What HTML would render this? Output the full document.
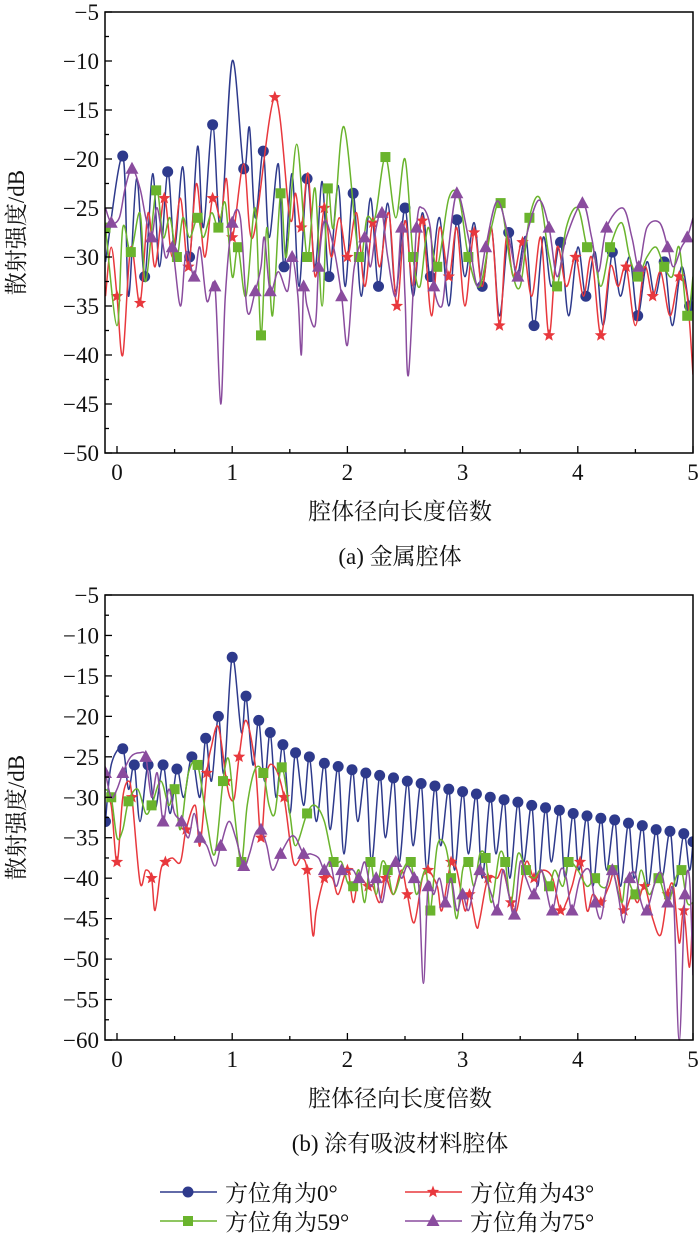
<!DOCTYPE html>
<html><head><meta charset="utf-8">
<style>
html,body{margin:0;padding:0;background:#fff;}
svg{display:block;font-family:"Liberation Serif","Noto Serif CJK SC","Noto Sans CJK SC",serif;}
</style></head>
<body>
<svg id="chart" width="700" height="1237" viewBox="0 0 700 1237" xmlns="http://www.w3.org/2000/svg"></svg>
<script>
// ---- Data (top panel: metal cavity) ----
const t0x=[-0.1,0.05,0.1,0.17,0.24,0.31,0.37,0.44,0.5,0.57,0.63,0.70,0.75,0.83,0.9,1.0,1.1,1.15,1.2,1.27,1.32,1.4,1.45,1.52,1.58,1.65,1.72,1.78,1.84,1.92,1.98,2.05,2.12,2.2,2.27,2.35,2.42,2.5,2.57,2.65,2.72,2.8,2.88,2.95,3.02,3.1,3.17,3.25,3.32,3.4,3.47,3.55,3.62,3.7,3.77,3.85,3.92,4.0,4.07,4.15,4.22,4.3,4.37,4.45,4.52,4.6,4.67,4.75,4.82,4.9,4.97,5.0];
const t0y=[-30.5,-19.7,-34,-22,-32,-21.5,-31,-21.3,-29,-20.8,-30,-18.7,-27,-16.5,-27,-10,-21,-16.8,-26,-19.2,-28,-20.5,-31,-21.5,-33,-22,-31,-22.3,-32,-22.7,-33,-23.5,-34,-24,-33,-24.5,-33.5,-25,-34,-25.5,-32,-26,-35,-26.2,-32,-26.5,-33,-27,-36,-27.5,-32,-28,-37,-28,-33,-28.5,-36,-29,-34,-29.5,-37,-29.5,-34,-30,-36,-30.5,-34,-30.5,-37,-31,-35,-33];
const t43x=[-0.1,-0.05,0.0,0.05,0.12,0.2,0.27,0.33,0.41,0.48,0.55,0.62,0.69,0.76,0.83,0.9,0.95,1.0,1.1,1.18,1.37,1.5,1.55,1.6,1.66,1.72,1.8,1.86,1.93,2.0,2.08,2.15,2.22,2.28,2.36,2.43,2.5,2.57,2.65,2.73,2.8,2.88,2.95,3.02,3.1,3.17,3.25,3.32,3.38,3.44,3.52,3.6,3.68,3.75,3.82,3.9,3.98,4.05,4.12,4.2,4.28,4.35,4.42,4.5,4.58,4.65,4.72,4.8,4.88,4.95,5.0];
const t43y=[-34,-29,-34,-40,-29,-34.7,-25.5,-31,-24,-30,-24,-31,-22.5,-30,-24,-26,-22,-28,-20.5,-28,-13.7,-26,-23.5,-27,-21.5,-32,-25,-30,-26,-30,-25.5,-33,-26.5,-31,-25.5,-35,-26.3,-33,-26.3,-36,-27,-32,-27,-35,-27.5,-33,-27,-37,-28,-32,-28.5,-34,-28,-38,-29,-33,-30,-34,-30,-38,-31,-33,-31,-37,-31,-34,-31.5,-36,-32,-34,-42];
const t59x=[-0.1,0.0,0.05,0.12,0.2,0.25,0.34,0.4,0.46,0.52,0.57,0.63,0.7,0.75,0.82,0.88,0.94,1.0,1.05,1.12,1.2,1.25,1.3,1.35,1.42,1.47,1.56,1.65,1.72,1.78,1.83,1.88,1.97,2.1,2.17,2.24,2.33,2.42,2.5,2.57,2.63,2.7,2.78,2.88,2.97,3.05,3.15,3.25,3.33,3.42,3.5,3.58,3.67,3.75,3.82,3.9,4.0,4.08,4.13,4.2,4.28,4.38,4.45,4.52,4.6,4.68,4.75,4.82,4.88,4.95,5.0];
const t59y=[-27,-37,-27,-29.5,-25.5,-32.5,-23.2,-28,-26,-30,-26,-28,-26,-28,-25.5,-27,-24.5,-32,-29,-34,-25,-38,-27,-36,-23.5,-30,-18.5,-30,-23,-35,-23,-27,-16.7,-30,-26,-26,-19.8,-26,-20,-30,-33,-27,-31,-24,-24,-30,-33,-27,-24.5,-31,-33,-26,-24,-30,-33,-27,-25,-29,-29,-33,-29,-26.5,-30,-32,-30,-29,-31,-32,-29,-36,-32];
const t75x=[-0.1,-0.05,0.02,0.07,0.13,0.2,0.25,0.3,0.35,0.42,0.48,0.55,0.6,0.67,0.72,0.78,0.85,0.9,0.94,1.0,1.07,1.13,1.2,1.25,1.28,1.33,1.4,1.48,1.52,1.57,1.6,1.62,1.65,1.72,1.75,1.8,1.88,1.95,2.0,2.06,2.15,2.2,2.25,2.3,2.35,2.42,2.47,2.5,2.53,2.6,2.65,2.72,2.75,2.82,2.87,2.95,3.05,3.13,3.2,3.3,3.4,3.48,3.55,3.66,3.75,3.82,3.9,4.04,4.12,4.18,4.25,4.39,4.47,4.53,4.6,4.71,4.78,4.83,4.9,4.95,5.0];
const t75y=[-25,-26.5,-26,-23,-21,-23,-26,-28,-25,-30,-29,-35,-29.5,-32,-29,-34.5,-33,-45,-34,-26.5,-26,-35.5,-33.5,-31,-28,-33.5,-31.5,-33.5,-30,-34,-40,-33,-35,-37,-31,-26.3,-29,-34,-39,-31,-28,-31,-27,-25.5,-30,-34,-27,-34,-42,-27,-25,-27,-33,-35,-30,-23.5,-28,-33,-29,-24.3,-28,-32,-28,-24.2,-27,-32,-28,-24.5,-28,-31.5,-27,-25,-28,-31,-27,-26.5,-29,-31,-29,-28,-26];
// ---- Data (bottom panel: absorber-coated cavity) ----
const b0x=[-0.1,-0.05,0.05,0.1,0.15,0.2,0.27,0.33,0.4,0.46,0.52,0.58,0.65,0.72,0.77,0.82,0.88,0.93,1.0,1.08,1.12,1.18,1.23,1.28,1.33,1.38,1.44,1.5,1.55,1.62,1.67,1.73,1.8,1.85,1.92,1.97,2.04,2.09,2.16,2.21,2.28,2.33,2.4,2.45,2.52,2.57,2.64,2.69,2.76,2.81,2.88,2.93,3.0,3.05,3.12,3.17,3.24,3.29,3.36,3.41,3.48,3.53,3.6,3.65,3.72,3.77,3.84,3.89,3.96,4.01,4.08,4.13,4.2,4.25,4.32,4.37,4.44,4.49,4.56,4.61,4.68,4.73,4.8,4.85,4.92,4.97,5.0];
const b0y=[-33,-26,-24,-29,-26,-33,-26,-31.5,-26,-32,-26.5,-30,-25,-30,-22.7,-28,-20,-27,-12.7,-22,-17.5,-26,-20.5,-28,-22,-30,-23.5,-32,-24.5,-31,-25,-33,-25.8,-34,-26.2,-37,-26.6,-33,-27,-38,-27.3,-35,-27.6,-38,-28,-36,-28.3,-39,-28.6,-36,-29,-39,-29.3,-37,-29.6,-40,-30,-37,-30.3,-40,-30.6,-38,-31,-41,-31.3,-38,-31.6,-40,-32,-39,-32.3,-41,-32.6,-39,-32.8,-41,-33.2,-40,-33.5,-41,-34,-40,-34.2,-41,-34.5,-39,-35.5];
const b43x=[-0.1,-0.05,0.0,0.05,0.1,0.13,0.2,0.25,0.3,0.33,0.38,0.42,0.48,0.55,0.6,0.68,0.72,0.78,0.82,0.88,0.95,0.98,1.02,1.06,1.12,1.2,1.25,1.3,1.37,1.45,1.53,1.6,1.65,1.7,1.73,1.8,1.87,1.92,2.0,2.05,2.1,2.18,2.22,2.28,2.33,2.4,2.47,2.52,2.58,2.65,2.7,2.78,2.82,2.9,2.95,3.02,3.06,3.12,3.15,3.22,3.3,3.35,3.42,3.47,3.55,3.62,3.7,3.78,3.85,3.9,3.95,4.02,4.08,4.13,4.2,4.27,4.33,4.4,4.47,4.52,4.58,4.65,4.72,4.78,4.83,4.88,4.92,4.97,5.0];
const b43y=[-30,-31,-38,-30,-28,-30,-40.5,-39,-40,-44,-39,-38,-37.5,-38,-34,-31,-36,-27,-23.7,-21.3,-28,-30,-30,-25,-20.5,-26,-35,-27,-26.3,-30,-38,-37.5,-39,-47,-44,-40,-40,-42,-39,-43,-40,-41,-41,-43,-40,-42,-39,-42,-45.5,-40,-39,-41,-44,-38,-39,-44,-42,-46,-45,-40,-40,-39,-43,-44,-38,-40,-39,-40,-44,-43,-41,-38,-44,-42,-43,-41,-39,-44,-42,-43,-41,-45,-47,-42,-41,-48,-44,-51,-43];
const b59x=[-0.1,-0.05,0.0,0.05,0.1,0.18,0.25,0.3,0.38,0.45,0.5,0.55,0.62,0.7,0.78,0.85,0.92,0.97,1.02,1.08,1.13,1.2,1.27,1.32,1.37,1.43,1.5,1.55,1.65,1.72,1.8,1.88,1.95,2.0,2.05,2.1,2.15,2.2,2.25,2.3,2.35,2.4,2.48,2.55,2.6,2.68,2.72,2.78,2.85,2.9,2.95,3.0,3.05,3.1,3.15,3.2,3.25,3.32,3.37,3.42,3.48,3.55,3.62,3.68,3.75,3.8,3.87,3.92,4.0,4.08,4.15,4.2,4.25,4.3,4.38,4.42,4.5,4.55,4.62,4.7,4.78,4.85,4.9,4.95,5.0];
const b59y=[-29,-30,-35,-34,-30.5,-29,-32,-31,-28,-31,-29,-34,-27,-26,-33,-37,-28,-25.3,-32,-38,-31,-26.5,-27,-31,-32,-26.3,-32,-36,-32,-31,-33,-38,-38,-40.5,-41,-39,-43,-38,-42,-38,-39,-42,-39,-38,-42,-39,-44,-36,-36,-40,-45,-39,-38,-41,-37,-37.5,-43,-37,-38,-43,-37,-39,-40,-39,-41,-39,-41,-38,-39,-41,-40,-41,-41,-39,-43,-40,-42,-39,-42,-40,-43,-40,-39,-43,-43];
const b75x=[-0.1,-0.05,0.0,0.05,0.12,0.2,0.25,0.3,0.35,0.4,0.45,0.5,0.56,0.62,0.67,0.72,0.78,0.85,0.9,0.97,1.03,1.1,1.15,1.2,1.25,1.3,1.35,1.42,1.5,1.55,1.62,1.68,1.75,1.8,1.85,1.9,1.95,2.0,2.05,2.1,2.15,2.2,2.25,2.3,2.35,2.42,2.47,2.52,2.58,2.62,2.66,2.7,2.75,2.8,2.85,2.9,2.95,3.0,3.05,3.1,3.15,3.2,3.25,3.3,3.35,3.4,3.45,3.5,3.55,3.62,3.68,3.72,3.78,3.85,3.9,3.95,4.02,4.1,4.15,4.2,4.25,4.3,4.35,4.4,4.45,4.5,4.55,4.6,4.68,4.73,4.78,4.83,4.88,4.93,4.97,5.0];
const b75y=[-27,-30,-29,-27,-25,-24.5,-25,-30,-27,-33,-29,-32,-33,-35,-32,-35,-36,-38.5,-36,-33,-35,-38.5,-37,-34.5,-34,-36,-39,-37,-35,-35,-37,-37,-37.5,-39,-38,-41,-39,-39,-39,-40,-38,-41,-40,-43,-39.5,-38,-40,-38.5,-40,-41,-53,-41,-42,-40,-43,-40,-44,-42,-44,-41,-39,-40,-42,-44,-39,-42,-44.5,-38,-40,-42,-39,-41,-44,-39,-40,-44,-40,-39,-43,-45,-41,-39,-42,-45.5,-40,-39.5,-43,-44,-40,-39.5,-43,-42,-60,-42,-40,-52];
const xTicks=[0,1,2,3,4,5];
const yTicksTop=[-5,-10,-15,-20,-25,-30,-35,-40,-45,-50];
const yTicksBot=[-5,-10,-15,-20,-25,-30,-35,-40,-45,-50,-55,-60];

const NS="http://www.w3.org/2000/svg";
const svg=document.getElementById('chart');
function mk(tag,attrs,parent){const e=document.createElementNS(NS,tag);for(const k in attrs)e.setAttribute(k,attrs[k]);(parent||svg).appendChild(e);return e;}
const COL={b:'#2e3a8c',r:'#e8383d',g:'#6ab42d',p:'#8a4c9e'};

function panel(cfg){
  const X=v=>cfg.x0+(v-0)*(cfg.x5-cfg.x0)/5;
  const Y=v=>cfg.top+(cfg.ymax-v)*(cfg.bot-cfg.top)/(cfg.ymax-cfg.ymin);
  const g=mk('g',{});
  
  
  const clipId=cfg.name+'-clip';
  const cp=mk('clipPath',{id:clipId},g);mk('rect',{x:cfg.left,y:cfg.top-2,width:cfg.right-cfg.left,height:cfg.bot-cfg.top+4},cp);
  const sg=mk('g',{'clip-path':'url(#'+clipId+')'},g);
  cfg.series.forEach(s=>{
    const pts=s.xs.map((v,i)=>[X(v),Y(s.ys[i])]);
    let d='M'+pts[0][0].toFixed(1)+','+pts[0][1].toFixed(1);
    for(let i=0;i<pts.length-1;i++){
      const p0=pts[Math.max(0,i-1)],p1=pts[i],p2=pts[i+1],p3=pts[Math.min(pts.length-1,i+2)];
      const c1=[p1[0]+(p2[0]-p0[0])/6,p1[1]+(p2[1]-p0[1])/6];
      const c2=[p2[0]-(p3[0]-p1[0])/6,p2[1]-(p3[1]-p1[1])/6];
      d+=` C${c1[0].toFixed(1)},${c1[1].toFixed(1)} ${c2[0].toFixed(1)},${c2[1].toFixed(1)} ${p2[0].toFixed(1)},${p2[1].toFixed(1)}`;
    }
    const line=mk('path',{d:d,fill:'none',stroke:COL[s.c],'stroke-width':1.5},sg);
    
    
    pts.forEach((p,i)=>{
      if(i%s.step!==s.off)return;
      const m=marker(s.c,p[0],p[1],sg);
      
      
    });
  });
  // frame
  const fr=mk('rect',{x:cfg.left,y:cfg.top,width:cfg.right-cfg.left,height:cfg.bot-cfg.top,fill:'none',stroke:'#000','stroke-width':1.5},g);
  
  
  xTicks.forEach(t=>{
    mk('line',{x1:X(t),x2:X(t),y1:cfg.bot,y2:cfg.bot-7,stroke:'#000','stroke-width':1.3},g);
    if(t<5)mk('line',{x1:X(t+0.5),x2:X(t+0.5),y1:cfg.bot,y2:cfg.bot-4,stroke:'#000','stroke-width':1.3},g);
    const tx=mk('text',{x:X(t),y:cfg.bot+27,'text-anchor':'middle','font-size':23,fill:'#111'},g);tx.textContent=t;
    
    
  });
  cfg.yt.forEach(t=>{
    mk('line',{x1:cfg.left,x2:cfg.left+7,y1:Y(t),y2:Y(t),stroke:'#000','stroke-width':1.3},g);
    if(t>cfg.ymin)mk('line',{x1:cfg.left,x2:cfg.left+4,y1:Y(t-2.5),y2:Y(t-2.5),stroke:'#000','stroke-width':1.3},g);
    const tx=mk('text',{x:cfg.left-6,y:Y(t)+8,'text-anchor':'end','font-size':23,fill:'#111'},g);tx.textContent='\u2212'+Math.abs(t);
    
    
  });
  const yt=mk('text',{x:0,y:0,'font-size':23,'text-anchor':'middle',transform:`translate(24,${(cfg.top+cfg.bot)/2}) rotate(-90)`,fill:'#111'},g);
  yt.textContent='散射强度/dB';
  
  
  const xt=mk('text',{x:X(2.5)-5,y:cfg.bot+66,'font-size':23,'text-anchor':'middle',fill:'#111'},g);
  xt.textContent='腔体径向长度倍数';
  
  
  const cap=mk('text',{x:X(2.5)-5,y:cfg.bot+111,'font-size':23,'text-anchor':'middle',fill:'#111'},g);
  cap.textContent=cfg.caption;
  
  
}
function marker(c,x,y,parent){
  const col=COL[c];
  if(c==='b')return mk('circle',{cx:x,cy:y,r:5.5,fill:col},parent);
  if(c==='g')return mk('rect',{x:x-5,y:y-5,width:10,height:10,fill:col},parent);
  if(c==='p')return mk('polygon',{points:`${x},${y-7} ${x+6.5},${y+5} ${x-6.5},${y+5}`,fill:col},parent);
  let s='';for(let i=0;i<10;i++){const r=i%2?2.8:6.5,a=-Math.PI/2+i*Math.PI/5;s+=`${(x+r*Math.cos(a)).toFixed(1)},${(y+r*Math.sin(a)).toFixed(1)} `;}
  return mk('polygon',{points:s,fill:col},parent);
}
panel({name:'panel-a',left:105,right:693,top:12,bot:453,x0:117,x5:693,ymax:-5,ymin:-50,yt:yTicksTop,caption:'(a) 金属腔体',
  series:[{name:'top-az0',c:'b',xs:t0x,ys:t0y,step:3,off:1},{name:'top-az43',c:'r',xs:t43x,ys:t43y,step:3,off:2},
          {name:'top-az59',c:'g',xs:t59x,ys:t59y,step:3,off:0},{name:'top-az75',c:'p',xs:t75x,ys:t75y,step:3,off:1}]});
panel({name:'panel-b',left:105,right:693,top:595,bot:1040,x0:117,x5:693,ymax:-5,ymin:-60,yt:yTicksBot,caption:'(b) 涂有吸波材料腔体',
  series:[{name:'bot-az0',c:'b',xs:b0x,ys:b0y,step:2,off:0},{name:'bot-az43',c:'r',xs:b43x,ys:b43y,step:3,off:2},
          {name:'bot-az59',c:'g',xs:b59x,ys:b59y,step:3,off:1},{name:'bot-az75',c:'p',xs:b75x,ys:b75y,step:3,off:0}]});
// legend
const legend=[['b','方位角为0°',160,1192],['r','方位角为43°',405,1192],['g','方位角为59°',160,1221],['p','方位角为75°',405,1221]];
legend.forEach(L=>{
  const g=mk('g',{});
  
  
  mk('line',{x1:L[2],x2:L[2]+57,y1:L[3],y2:L[3],stroke:COL[L[0]],'stroke-width':1.5},g);
  marker(L[0],L[2]+28,L[3],g);
  const t=mk('text',{x:L[2]+65,y:L[3]+9,'font-size':23,fill:'#111'},g);t.textContent=L[1];
});
</script>
</body></html>
